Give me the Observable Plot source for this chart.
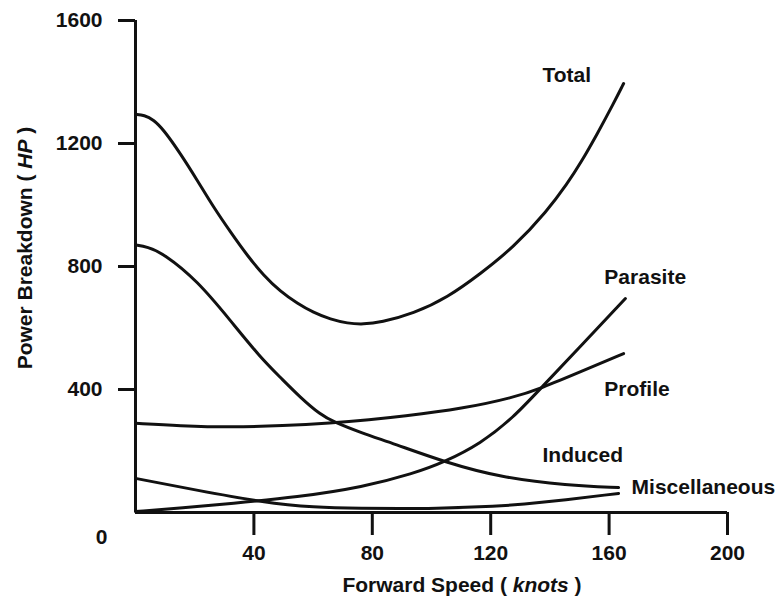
<!DOCTYPE html>
<html><head><meta charset="utf-8">
<script src="https://cdn.jsdelivr.net/npm/d3@7"></script>
<script src="https://cdn.jsdelivr.net/npm/@observablehq/plot@0.6"></script>
<style>body{margin:0;background:#fff} svg{display:block}</style>
</head><body><div id="chart"></div>
<script>
// Forward speed (knots) and power (HP)
const totalSpeed = [0,3,6,9.5,15.2,20.9,26.4,32.1,37.8,43.2,49,54.7,60.1,65.9,71.6,77,82.8,93.9,105.4,116.6,127.7,139.2,145.9,150.3,156.1,161.5,164.9];
const totalPower = [1295,1292,1278,1245,1167,1080,992,912,835,772,718,680,650,628,615,612,618,647,699,777,862,982,1070,1135,1233,1330,1395];

const inducedSpeed = [0,4,9.5,20.9,32.1,42.2,49,55.7,62.5,66.9,76,87.2,104.7,123.3,146,163.2];
const inducedPower = [870,864,842,754,624,504,439,374,318,295,260,224,163,114,88,81];

const profileSpeed = [0,15,32.1,50,65.9,79.4,89.5,110.8,127.7,136.8,151.4,164.9];
const profilePower = [290,282,277,282,291,302,312,338,374,403,462,517];

const parasiteSpeed = [0,16,32.1,54.7,77,93.9,104.1,116.6,127.7,136.8,150.3,165.5];
const parasitePower = [3,15,29,50,83,127,163,224,309,403,540,696];

const miscSpeed = [0,20.9,43.2,60.1,77,89.5,99.7,122.3,134.5,163.2];
const miscPower = [111,72,33,16,13,13,13,20,29,62];

const labelText  = ["Total","Parasite","Profile","Induced","Miscellaneous"];
const labelSpeed = [137.5,158.4,158.4,137.5,167.6];
const labelPower = [1421,764,400,185,81];

const xTicks = [40,80,120,160,200];
const yTicks = [400,800,1200,1600];

const seriesDefs = [
  ["Total", totalSpeed, totalPower],
  ["Induced", inducedSpeed, inducedPower],
  ["Profile", profileSpeed, profilePower],
  ["Parasite", parasiteSpeed, parasitePower],
  ["Miscellaneous", miscSpeed, miscPower]
];
const rows = seriesDefs.flatMap(([name, xs, ys]) => xs.map((x, i) => ({series: name, speed: x, power: ys[i]})));
const labels = labelText.map((t, i) => ({text: t, speed: labelSpeed[i], power: labelPower[i]}));

const FONT = "'Liberation Sans', Arial, Helvetica, sans-serif";
const FS = 21;

const chart = Plot.plot({
  width: 778,
  height: 605,
  marginLeft: 135,
  marginRight: 51,
  marginTop: 20,
  marginBottom: 93,
  style: {fontFamily: FONT, fontSize: FS + "px", fontWeight: "bold", color: "#111", background: "#fff"},
  x: {domain: [0, 200]},
  y: {domain: [0, 1600]},
  marks: [
    Plot.axisX({ticks: xTicks, tickFormat: d => String(d), tickSize: 23, tickPadding: 10, strokeWidth: 3, fontSize: FS, label: null}),
    Plot.axisY({ticks: yTicks, tickFormat: d => String(d), tickSize: 17, tickPadding: 16, strokeWidth: 3, fontSize: FS, label: null}),
    Plot.ruleX([0], {y1: 0, y2: 1600, strokeWidth: 3, stroke: "#111"}),
    Plot.ruleY([0], {x1: 0, x2: 200, strokeWidth: 3, stroke: "#111"}),
    Plot.text([{speed: 0, power: 0, t: "0"}], {x: "speed", y: "power", text: "t", dx: -34, dy: 25, fontSize: FS, fill: "#111"}),
    Plot.line(rows, {x: "speed", y: "power", z: "series", curve: "basis", stroke: "#111", strokeWidth: 3}),
    Plot.text(labels, {x: "speed", y: "power", text: "text", textAnchor: "start", lineAnchor: "middle", fontSize: FS, fill: "#111"})
  ]
});

const svg = d3.select(chart);
const yt = svg.append("text")
  .attr("transform", "translate(32,248) rotate(-90)")
  .attr("text-anchor", "middle")
  .attr("font-size", FS).attr("font-weight", "bold").attr("font-family", FONT).attr("fill", "#111");
yt.append("tspan").text("Power Breakdown ( ");
yt.append("tspan").attr("font-style", "italic").text("HP");
yt.append("tspan").text(" )");

const xt = svg.append("text")
  .attr("x", 462).attr("y", 592)
  .attr("text-anchor", "middle")
  .attr("font-size", FS).attr("font-weight", "bold").attr("font-family", FONT).attr("fill", "#111");
xt.append("tspan").text("Forward Speed ( ");
xt.append("tspan").attr("font-style", "italic").text("knots");
xt.append("tspan").text(" )");

document.getElementById("chart").append(chart);
</script>
</body></html>
